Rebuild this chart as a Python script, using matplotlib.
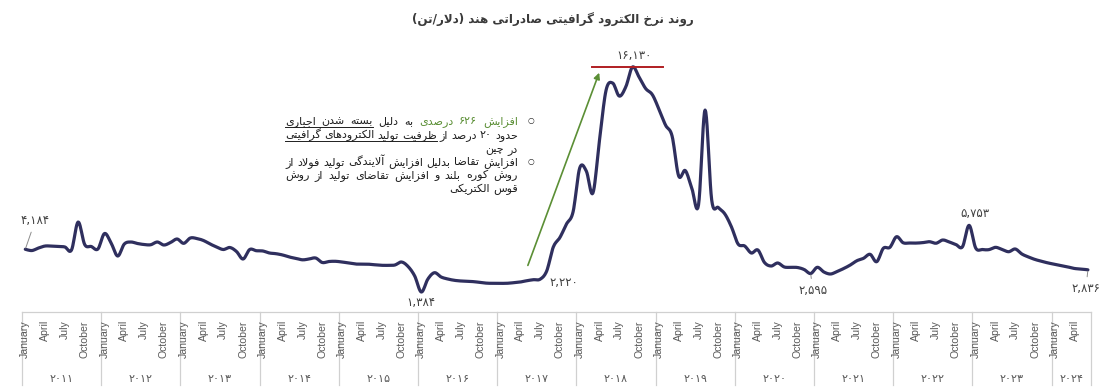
import re
import numpy as np
import matplotlib
matplotlib.use('Agg')
import matplotlib.pyplot as plt
from matplotlib.lines import Line2D
from matplotlib.transforms import blended_transform_factory

# ---------------- data ----------------
years = list(range(2011, 2025))
month_ticks = {0: 'January', 3: 'April', 6: 'July', 9: 'October'}
prices = [
    4184, 4100, 4266, 4397, 4390, 4377, 4332, 4135, 5969, 4495, 4364, 4201,      # 2011
    5216, 4594, 3742, 4528, 4659, 4561, 4495, 4480, 4659, 4463, 4626, 4856,      # 2012
    4574, 4921, 4888, 4757, 4528, 4332, 4168, 4299, 4037, 3546, 4168, 4089,      # 2013
    4070, 3939, 3893, 3808, 3677, 3591, 3493, 3546, 3611, 3316, 3382, 3395,      # 2014
    3349, 3284, 3218, 3210, 3205, 3166, 3133, 3130, 3153, 3349, 3054, 2432,      # 2015
    1384, 2236, 2648, 2367, 2236, 2150, 2105, 2085, 2059, 2006, 1960, 1954,      # 2016
    1950, 1955, 1993, 2039, 2124, 2190, 2220, 2760, 4332, 4954, 5838, 6644,      # 2017
    9506, 9310, 7869, 11340, 14615, 15074, 14222, 14844, 16130, 15467, 14713, 14320,  # 2018
    13371, 12323, 11602, 8982, 9342, 8163, 7083, 13305, 7410, 6919, 6493, 5642,  # 2019
    4528, 4397, 3939, 4135, 3316, 3087, 3284, 3022, 3002, 2989, 2858, 2595,      # 2020
    3002, 2694, 2563, 2727, 2923, 3153, 3434, 3591, 3853, 3369, 4246, 4312,      # 2021
    5006, 4613, 4594, 4590, 4620, 4679, 4580, 4790, 4659, 4495, 4351, 5753,      # 2022
    4266, 4168, 4160, 4312, 4170, 4024, 4201, 3873, 3677, 3513, 3395, 3284,      # 2023
    3198, 3113, 3022, 2923, 2891, 2836,                                          # 2024
]
labelled_points = [0, 60, 78, 92, 119, 143, 161]   # indices of annotated values

title_text = 'روند نرخ الکترود گرافیتی صادراتی هند (دلار/تن)'
note_lines = [
    # (tokens, justify, bullet)  token: (word, colour key, underline)
    ([('افزایش', 'g', 0), ('۶۲۶', 'g', 0), ('درصدی', 'g', 0), ('به', 'k', 0), ('دلیل', 'k', 0),
      ('بسته', 'k', 1), ('شدن', 'k', 1), ('اجباری', 'k', 1)], True, True),
    ([('حدود', 'k', 0), ('۲۰', 'k', 0), ('درصد', 'k', 0), ('از', 'k', 0), ('ظرفیت', 'k', 1),
      ('تولید', 'k', 1), ('الکترودهای', 'k', 1), ('گرافیتی', 'k', 1)], True, False),
    ([('در', 'k', 0), ('چین', 'k', 0)], False, False),
    ([(w, 'k', 0) for w in 'افزایش تقاضا بدلیل افزایش آلایندگی تولید فولاد از'.split()], True, True),
    ([(w, 'k', 0) for w in 'روش کوره بلند و افزایش تقاضای تولید از روش'.split()], True, False),
    ([(w, 'k', 0) for w in 'قوس الکتریکی'.split()], False, False),
]

# ---------------- Arabic-script shaping (presentation forms) ----------------
FORMS = {
    'ء': ('\uFE80', None, None, None),
    'آ': ('\uFE81', '\uFE82', None, None),
    'أ': ('\uFE83', '\uFE84', None, None),
    'ؤ': ('\uFE85', '\uFE86', None, None),
    'إ': ('\uFE87', '\uFE88', None, None),
    'ئ': ('\uFE89', '\uFE8A', '\uFE8B', '\uFE8C'),
    'ا': ('\uFE8D', '\uFE8E', None, None),
    'ب': ('\uFE8F', '\uFE90', '\uFE91', '\uFE92'),
    'ة': ('\uFE93', '\uFE94', None, None),
    'ت': ('\uFE95', '\uFE96', '\uFE97', '\uFE98'),
    'ث': ('\uFE99', '\uFE9A', '\uFE9B', '\uFE9C'),
    'ج': ('\uFE9D', '\uFE9E', '\uFE9F', '\uFEA0'),
    'ح': ('\uFEA1', '\uFEA2', '\uFEA3', '\uFEA4'),
    'خ': ('\uFEA5', '\uFEA6', '\uFEA7', '\uFEA8'),
    'د': ('\uFEA9', '\uFEAA', None, None),
    'ذ': ('\uFEAB', '\uFEAC', None, None),
    'ر': ('\uFEAD', '\uFEAE', None, None),
    'ز': ('\uFEAF', '\uFEB0', None, None),
    'س': ('\uFEB1', '\uFEB2', '\uFEB3', '\uFEB4'),
    'ش': ('\uFEB5', '\uFEB6', '\uFEB7', '\uFEB8'),
    'ص': ('\uFEB9', '\uFEBA', '\uFEBB', '\uFEBC'),
    'ض': ('\uFEBD', '\uFEBE', '\uFEBF', '\uFEC0'),
    'ط': ('\uFEC1', '\uFEC2', '\uFEC3', '\uFEC4'),
    'ظ': ('\uFEC5', '\uFEC6', '\uFEC7', '\uFEC8'),
    'ع': ('\uFEC9', '\uFECA', '\uFECB', '\uFECC'),
    'غ': ('\uFECD', '\uFECE', '\uFECF', '\uFED0'),
    'ف': ('\uFED1', '\uFED2', '\uFED3', '\uFED4'),
    'ق': ('\uFED5', '\uFED6', '\uFED7', '\uFED8'),
    'ك': ('\uFED9', '\uFEDA', '\uFEDB', '\uFEDC'),
    'ل': ('\uFEDD', '\uFEDE', '\uFEDF', '\uFEE0'),
    'م': ('\uFEE1', '\uFEE2', '\uFEE3', '\uFEE4'),
    'ن': ('\uFEE5', '\uFEE6', '\uFEE7', '\uFEE8'),
    'ه': ('\uFEE9', '\uFEEA', '\uFEEB', '\uFEEC'),
    'و': ('\uFEED', '\uFEEE', None, None),
    'ى': ('\uFEEF', '\uFEF0', None, None),
    'ي': ('\uFEF1', '\uFEF2', '\uFEF3', '\uFEF4'),
    'پ': ('\uFB56', '\uFB57', '\uFB58', '\uFB59'),
    'چ': ('\uFB7A', '\uFB7B', '\uFB7C', '\uFB7D'),
    'ژ': ('\uFB8A', '\uFB8B', None, None),
    'ک': ('\uFB8E', '\uFB8F', '\uFB90', '\uFB91'),
    'گ': ('\uFB92', '\uFB93', '\uFB94', '\uFB95'),
    'ی': ('\uFBFC', '\uFBFD', '\uFBFE', '\uFBFF'),
}
LAM_ALEF = {'ا': ('\uFEFB', '\uFEFC'), 'آ': ('\uFEF5', '\uFEF6'),
            'أ': ('\uFEF7', '\uFEF8'), 'إ': ('\uFEF9', '\uFEFA')}


def _joins_fwd(c):
    return c in FORMS and FORMS[c][2] is not None


def shape(s):
    out, i, n = [], 0, len(s)
    while i < n:
        c = s[i]
        if c not in FORMS:
            out.append(c)
            i += 1
            continue
        pj = i > 0 and _joins_fwd(s[i - 1])
        if c == 'ل' and i + 1 < n and s[i + 1] in LAM_ALEF:
            iso, fin = LAM_ALEF[s[i + 1]]
            out.append(fin if pj else iso)
            i += 2
            continue
        nxt = s[i + 1] if i + 1 < n else None
        nj = _joins_fwd(c) and nxt in FORMS and FORMS[nxt][1] is not None
        iso, fin, ini, med = FORMS[c]
        out.append(med if (pj and nj) else fin if pj else ini if nj else iso)
        i += 1
    return ''.join(out)


MIRROR = str.maketrans('()', ')(')


def rtl(s):
    r = shape(s)[::-1].translate(MIRROR)
    return re.sub(r'[0-9۰-۹]+(?:[.,٬][0-9۰-۹]+)*', lambda m: m.group(0)[::-1], r)


FA_DIG = str.maketrans('0123456789', '۰۱۲۳۴۵۶۷۸۹')


def fa_num(v):
    return f'{v:,}'.translate(FA_DIG)


def catmull(xv, yv, n=10):
    P = np.column_stack([xv, yv]).astype(float)
    P = np.vstack([P[0], P, P[-1]])
    t = np.linspace(0, 1, n, endpoint=False)[:, None]
    segs = []
    for i in range(1, len(P) - 2):
        p0, p1, p2, p3 = P[i - 1], P[i], P[i + 1], P[i + 2]
        segs.append(0.5 * (2 * p1 + (-p0 + p2) * t + (2 * p0 - 5 * p1 + 4 * p2 - p3) * t ** 2
                           + (-p0 + 3 * p1 - 3 * p2 + p3) * t ** 3))
    segs.append(P[-2][None, :])
    out = np.vstack(segs)
    return out[:, 0], out[:, 1]


# ---------------- figure ----------------
plt.rcParams['font.family'] = ['DejaVu Sans']
W, H = 1112, 391
fig = plt.figure(figsize=(W / 100, H / 100), dpi=100)
ax = fig.add_axes([22 / W, 1 - 312 / H, 1069.2 / W, 257 / H])
ax.set_xlim(-0.5, len(prices) - 0.5)
ax.set_ylim(73, 16915)
ax.axis('off')

LINE_C = '#2f2f5e'
GREEN = '#5b8f35'
GRAY = '#595959'
LABEL_C = '#404040'

idx = np.arange(len(prices))
sx, sy = catmull(idx, prices)
ax.plot(sx, sy, color=LINE_C, lw=2.3, solid_capstyle='round', solid_joinstyle='round', zorder=3)

# value labels
offsets = {0: (10, 29, True), 60: (0, -11, False), 78: (24, -3, False), 92: (2, 11, False),
           119: (2, -17, True), 143: (6, 12, False), 161: (-2, -19, True)}
for i in labelled_points:
    dx, dy, leader = offsets[i]
    kw = {}
    if leader:
        kw['arrowprops'] = dict(arrowstyle='-', color='#8c8c8c', lw=0.7, shrinkA=2, shrinkB=1)
    ax.annotate(fa_num(prices[i]), xy=(i, prices[i]), xytext=(dx, dy), textcoords='offset pixels',
                ha='center', va='center', fontsize=8.5, color=LABEL_C, zorder=5, **kw)

# maximum marker line
imax = int(np.argmax(prices))
ax.plot([imax - 6.2, imax + 4.6], [prices[imax]] * 2, color='#b01e23', lw=1.4, zorder=4)

# green arrow
ax.annotate('', xy=(87.1, 15925), xytext=(76.0, 2956),
            arrowprops=dict(arrowstyle='-|>', color=GREEN, lw=1.2, mutation_scale=9), zorder=2)

# ---------------- category axis (months / years) ----------------
bt = blended_transform_factory(ax.transData, fig.transFigure)
y_top = 1 - 312 / H
y_bot = 1 - 385 / H
sep_c = '#d0d0d0'
ax.add_line(Line2D([-0.5, len(prices) - 0.5], [y_top, y_top], transform=bt, color=sep_c, lw=0.9,
                   clip_on=False))
bounds = [12 * k - 0.5 for k in range(len(years))] + [len(prices) - 0.5]
for b in bounds:
    ax.add_line(Line2D([b, b], [y_top, y_bot], transform=bt, color=sep_c, lw=0.9, clip_on=False))
for m in range(len(prices)):
    if m % 12 in month_ticks:
        ax.text(m, 1 - 320 / H, month_ticks[m % 12], transform=bt, rotation=90, ha='center', va='top',
                fontsize=7.6, color=GRAY, family='Liberation Sans')
for k, yr in enumerate(years):
    lo = 12 * k - 0.5
    hi = min(12 * k + 11.5, len(prices) - 0.5)
    ax.text((lo + hi) / 2, 1 - 379 / H, str(yr).translate(FA_DIG), transform=bt, ha='center',
            va='center', fontsize=8, color=GRAY)

# ---------------- title ----------------
fig.text(553 / W, 1 - 20 / H, rtl(title_text), ha='center', va='center', fontsize=8.6,
         fontweight='bold', color='#3a3a3a')

# ---------------- annotation text block ----------------
renderer = fig.canvas.get_renderer()
FS = 8
colours = {'g': GREEN, 'k': '#1f1f1f'}
right_px, left_px = 518, 285
baselines = [124, 138, 152, 165, 178.5, 192]
space_px = 0.318 * FS * 100 / 72
for (tokens, justify, bullet), yb in zip(note_lines, baselines):
    objs = []
    for word, ck, ul in tokens:
        t = fig.text(0, 1 - yb / H, rtl(word), fontsize=FS, color=colours[ck], ha='left',
                     va='baseline')
        objs.append((t, ul, t.get_window_extent(renderer).width))
    total = sum(o[2] for o in objs)
    gap = (right_px - left_px - total) / (len(objs) - 1) if (justify and len(objs) > 1) else space_px
    x = right_px
    spans = []
    for t, ul, w in objs:
        xl = x - w
        t.set_x(xl / W)
        spans.append((xl, x, ul))
        x = xl - gap
    # underline runs
    run = None
    for xl, xr, ul in spans + [(0, 0, 0)]:
        if ul:
            run = (xl, run[1]) if run else (xl, xr)
        elif run:
            fig.add_artist(Line2D([run[0] / W, run[1] / W], [1 - (yb + 2.5) / H] * 2,
                                  transform=fig.transFigure, color='#1f1f1f', lw=0.7))
            run = None
    if bullet:
        fig.text(531 / W, 1 - (yb - 3.5) / H, '○', fontsize=5.5, ha='center', va='center',
                 color='#1f1f1f')

fig.savefig('out.png', dpi=100)
